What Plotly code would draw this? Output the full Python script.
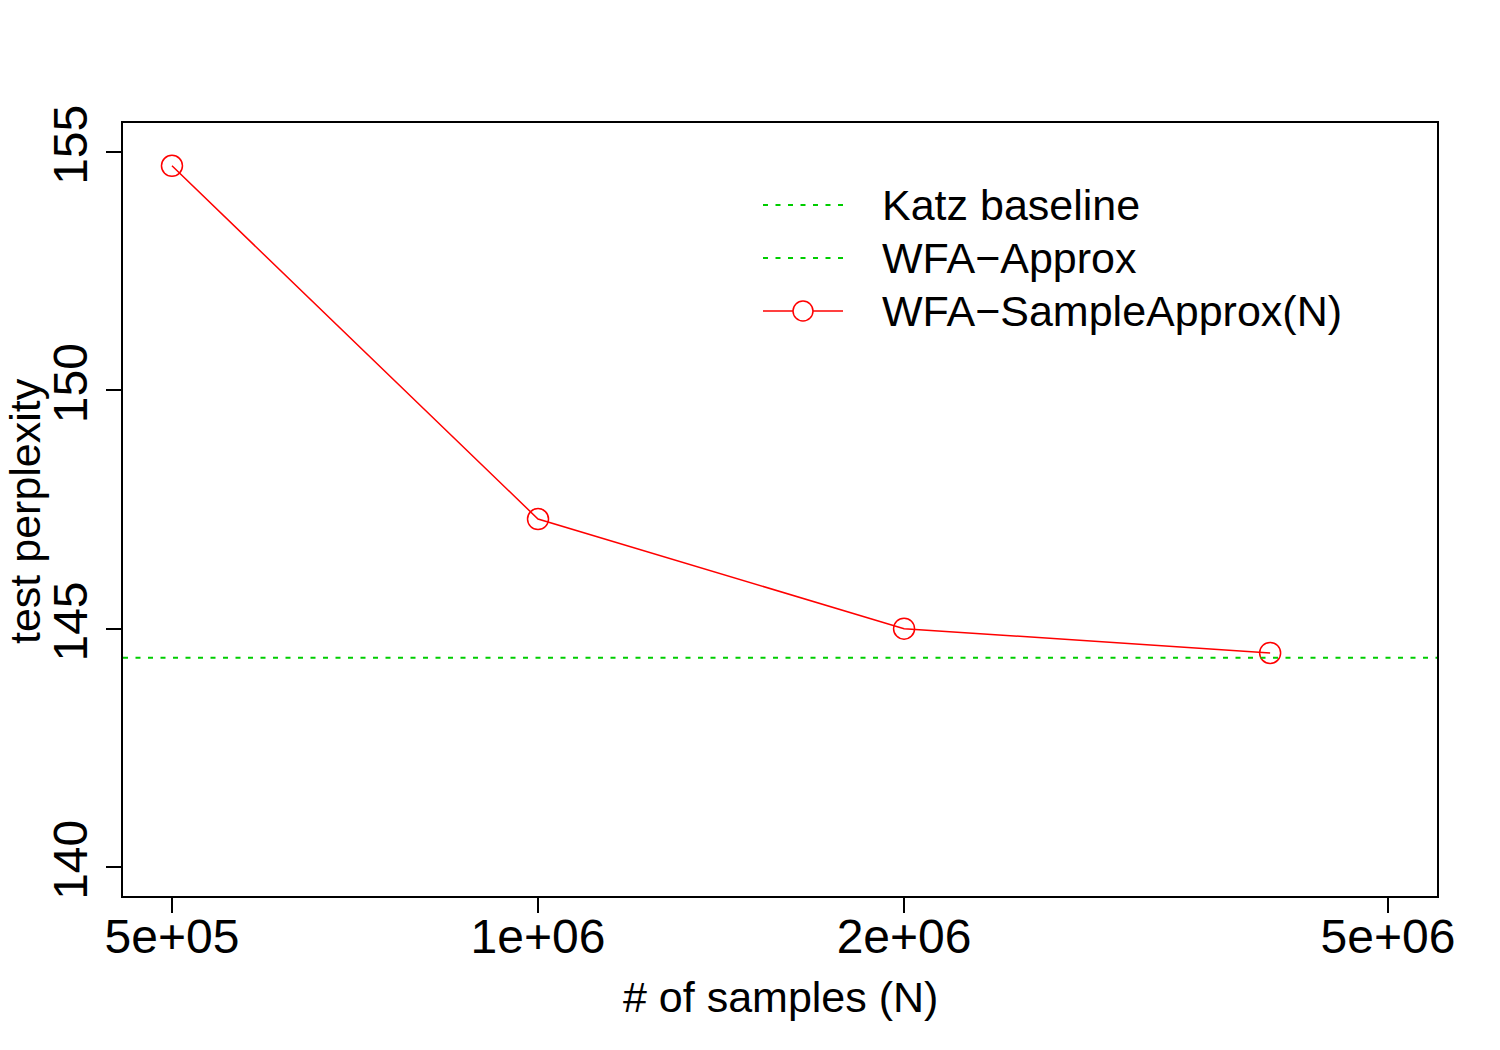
import plotly.graph_objects as go

# Data
n_samples = [5e5, 1e6, 2e6, 4e6]
sample_approx = [154.71, 147.30, 145.00, 144.49]
wfa_approx = 144.39
katz_baseline = None  # not visible within plotted range

x_tickvals = [5e5, 1e6, 2e6, 5e6]
x_ticktext = ["5e+05", "1e+06", "2e+06", "5e+06"]
y_tickvals = [140, 145, 150, 155]

FONT = "Liberation Sans, Arial, Helvetica, sans-serif"
GREEN = "#00CD00"
RED = "#FF0000"
DASH = "5px,7.5px"

W, H = 1500, 1050
L, R, T, B = 123, 63, 123, 154
PW, PH = W - L - R, H - T - B

def px(x):
    return (x - L) / PW

def py(y):
    return (H - B - y) / PH

fig = go.Figure()

fig.add_trace(go.Scatter(
    x=n_samples, y=sample_approx, mode="lines+markers",
    name="WFA\u2212SampleApprox(N)",
    line=dict(color=RED, width=1.5),
    marker=dict(symbol="circle-open", size=21, color=RED, line=dict(width=1.5)),
    showlegend=False,
))

fig.add_hline(y=wfa_approx, line=dict(color=GREEN, width=2, dash=DASH))

# Manual legend (R-style, no box)
legend_items = [
    ("Katz baseline", GREEN, "dot", False, 205),
    ("WFA\u2212Approx", GREEN, "dot", False, 258),
    ("WFA\u2212SampleApprox(N)", RED, "solid", True, 311),
]
for label, col, dash, mark, yy in legend_items:
    fig.add_shape(type="line", xref="paper", yref="paper",
                  x0=px(763), x1=px(843), y0=py(yy), y1=py(yy),
                  line=dict(color=col, width=2 if dash == "dot" else 1.5,
                            dash=DASH if dash == "dot" else "solid"))
    if mark:
        fig.add_shape(type="circle", xref="paper", yref="paper",
                      x0=px(793), x1=px(813), y0=py(yy - 10), y1=py(yy + 10),
                      line=dict(color=col, width=1.5), fillcolor="white")
    fig.add_annotation(text=label, xref="paper", yref="paper",
                       x=px(880), y=py(yy), xanchor="left", yanchor="middle",
                       showarrow=False, font=dict(family=FONT, size=43, color="black"))

# Axis titles
fig.add_annotation(text="# of samples (N)", xref="paper", yref="paper",
                   x=px(780), y=py(997), xanchor="center", yanchor="middle",
                   showarrow=False, font=dict(family=FONT, size=43, color="black"))
fig.add_annotation(text="test perplexity", xref="paper", yref="paper",
                   x=px(25), y=py(511), xanchor="center", yanchor="middle",
                   textangle=-90, showarrow=False,
                   font=dict(family=FONT, size=43, color="black"))

fig.update_layout(
    width=W, height=H,
    margin=dict(l=L, r=R, t=T, b=B),
    paper_bgcolor="white", plot_bgcolor="white",
    showlegend=False,
    font=dict(family=FONT, color="black"),
)
fig.update_xaxes(
    type="log", range=[5.6587, 6.7393],
    tickvals=x_tickvals, ticktext=x_ticktext,
    tickfont=dict(family=FONT, size=48, color="black"),
    ticks="outside", ticklen=15, tickwidth=1.5, tickcolor="black",
    ticklabelstandoff=-18,
    showline=True, linecolor="black", linewidth=2, mirror=True,
    showgrid=False, zeroline=False,
)
fig.update_yaxes(
    range=[139.392, 155.608],
    tickvals=y_tickvals, ticktext=[str(v) for v in y_tickvals],
    tickangle=-90,
    tickfont=dict(family=FONT, size=48, color="black"),
    ticks="outside", ticklen=15, tickwidth=1.5, tickcolor="black",
    showline=True, linecolor="black", linewidth=2, mirror=True,
    showgrid=False, zeroline=False,
)

fig.write_html("out.html")
